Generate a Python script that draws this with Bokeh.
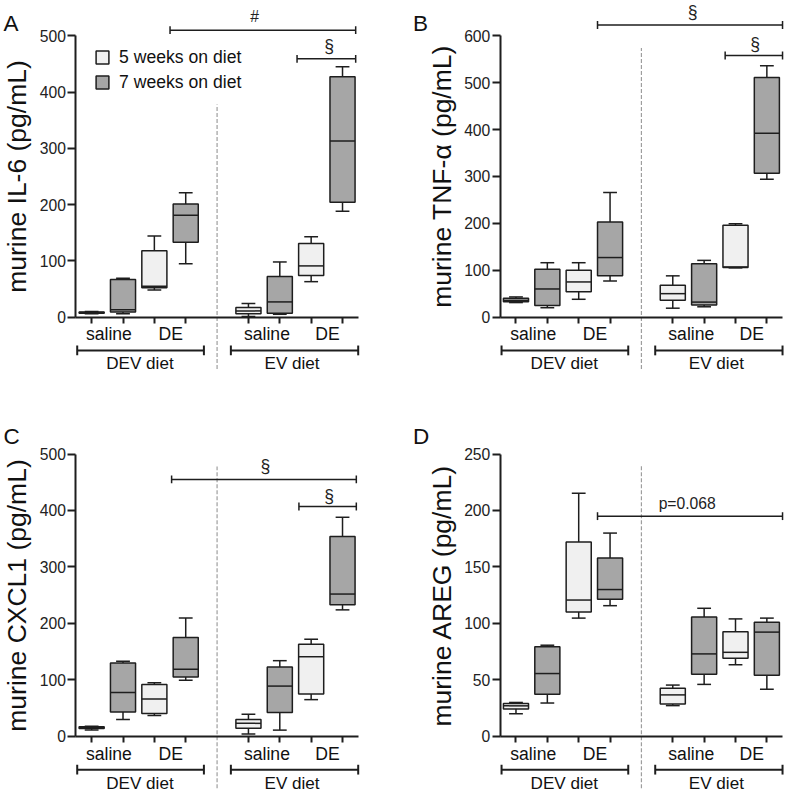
import numpy as np
from bokeh.plotting import figure
from bokeh.models import (ColumnDataSource, FixedTicker, LinearAxis, Range1d,
                          Label, Legend, LegendItem)
from bokeh.layouts import gridplot
from bokeh.core.properties import value
from bokeh.embed import file_html
from bokeh.resources import INLINE

# ---------------- data ----------------
pos_w5 = [1, 3, 6, 8]
pos_w7 = [2, 4, 7, 9]
sub_labels = ["saline", "DE", "saline", "DE"]
sub_label_x = [1.55, 3.52, 6.59, 8.52]
group_labels = ["DEV diet", "EV diet"]
group_label_x = [2.54, 7.39]
group_x0 = [0.54, 5.44]
group_x1 = [4.58, 9.5]
legend_labels = ["5 weeks on diet", "7 weeks on diet"]

# five-number summaries [min, q1, median, q3, max] for DEV saline, DEV DE, EV saline, EV DE
il6_w5 = [[6, 7, 8, 9, 10], [48, 52, 55, 118, 144], [1, 6, 11, 17, 24], [63, 74, 91, 131, 143]]
il6_w7 = [[6, 9, 13, 67, 69], [95, 133, 181, 201, 221], [5, 7, 27, 72, 98], [188, 204, 313, 427, 445]]
tnf_w5 = [[31, 33, 36, 40, 43], [38, 54, 75, 100, 116], [19, 36, 50, 68, 88], [105, 106, 107, 196, 199]]
tnf_w7 = [[20, 25, 60, 102, 116], [77, 88, 127, 203, 266], [22, 26, 32, 114, 121], [294, 307, 392, 511, 536]]
cxcl_w5 = [[11, 14, 15.5, 17, 18], [37, 40.5, 66, 92, 95], [4, 14.5, 23, 30, 39], [65, 75, 141, 163, 172]]
cxcl_w7 = [[30, 43, 77.5, 130, 133], [99.5, 105, 118.6, 175, 209.5], [11, 42, 89, 123, 134], [224, 233, 252, 354, 388]]
areg_w5 = [[20, 24.3, 27, 29, 30], [104.7, 110, 120.7, 172, 215.3], [27.2, 28.6, 36.7, 42.5, 45.4], [63.4, 69.2, 74.4, 92.6, 104]]
areg_w7 = [[29.5, 37.3, 55.6, 79.3, 80.7], [115.7, 121.5, 130, 158, 180], [46, 55, 73, 105.6, 113.4], [41.7, 54, 92.3, 101, 104.7]]

# significance brackets: x0, x1, y, label, label_x, label_y
il6_sig = [(3.5, 9.42, 510, "#", 6.2, 534), (7.55, 9.42, 459, "§", 8.57, 481)]
tnf_sig = [(3.6, 9.5, 623, "§", 6.63, 651), (7.67, 9.5, 558, "§", 8.63, 583)]
cxcl_sig = [(3.55, 9.44, 455, "§", 6.54, 479), (7.61, 9.44, 407, "§", 8.57, 425)]
areg_sig = [(3.6, 9.5, 195, "p=0.068", 6.46, 206)]

# ---------------- style ----------------
S = 0.98
FONT = "Liberation Sans"
LINE = "#1e1e1e"
LIGHT = "#f0f0f0"
DARK = "#a6a6a6"
DASH = "#9e9e9e"
FIG_W, FIG_H = 400, 404   # reference pixels per panel


def fs(px):
    return value(f"{px * S:.1f}px")


def make_panel(letter, ylabel, ymax, step, w5, w7, sig, fl, y0, ytop,
               sep_top, letter_xy, legend=False):
    W = round(FIG_W * S)
    H = round(FIG_H * S)
    ppu = (y0 - ytop) / ymax          # reference px per data unit
    xstart = 0.5 - fl / 32.0
    xend = 0.5 + (FIG_W - fl) / 32.0
    ystart = -(FIG_H - y0) / ppu
    yend = y0 / ppu

    p = figure(frame_width=W, frame_height=H, min_border=0,
               x_range=Range1d(xstart, xend), y_range=Range1d(ystart, yend),
               output_backend="svg", toolbar_location=None, tools="",
               x_axis_location=None, y_axis_location=None)
    p.grid.visible = False
    p.outline_line_color = None
    p.background_fill_color = "white"
    p.border_fill_color = "white"

    ya = LinearAxis(fixed_location=0.5, ticker=FixedTicker(ticks=list(range(0, ymax + 1, step))))
    ya.bounds = (0, ymax)
    ya.minor_tick_line_color = None
    ya.major_tick_out = round(8 * S)
    ya.major_tick_in = 0
    ya.major_label_standoff = 2
    ya.axis_line_width = 2
    ya.major_tick_line_width = 2
    ya.axis_line_color = LINE
    ya.major_tick_line_color = LINE
    ya.major_label_text_font = FONT
    ya.major_label_text_font_size = f"{16 * S:.1f}px"
    ya.major_label_text_color = "#222222"
    ya.axis_label = ylabel
    ya.axis_label_text_font = FONT
    ya.axis_label_text_font_style = "normal"
    ya.axis_label_text_font_size = f"{27 * S:.1f}px"
    ya.axis_label_text_color = "#111111"
    ya.axis_label_standoff = 4
    p.add_layout(ya, "left")

    xa = LinearAxis(fixed_location=0, ticker=FixedTicker(ticks=pos_w5 + pos_w7))
    xa.bounds = (0.5, 9.5)
    xa.major_label_text_font_size = "0px"
    xa.major_label_text_alpha = 0
    xa.minor_tick_line_color = None
    xa.major_tick_out = round(6 * S)
    xa.major_tick_in = 0
    xa.axis_line_width = 2
    xa.major_tick_line_width = 2
    xa.axis_line_color = LINE
    xa.major_tick_line_color = LINE
    p.add_layout(xa, "below")

    # separator
    p.segment(x0=[5], y0=[-53 / ppu], x1=[5], y1=[sep_top], line_color=DASH,
              line_width=1.2, line_dash="4 2")

    renderers = []
    for stats, pos, color in ((w5, pos_w5, LIGHT), (w7, pos_w7, DARK)):
        mins, q1, med, q3, maxs = (list(c) for c in zip(*stats))
        src = ColumnDataSource(dict(
            x=pos, left=[x - 0.4 for x in pos], right=[x + 0.4 for x in pos],
            cl=[x - 0.22 for x in pos], cr=[x + 0.22 for x in pos],
            mn=mins, q1=q1, med=med, q3=q3, mx=maxs))
        p.segment(x0="x", y0="mn", x1="x", y1="mx", source=src, line_color=LINE, line_width=1.5)
        p.segment(x0="cl", y0="mn", x1="cr", y1="mn", source=src, line_color=LINE, line_width=1.5)
        p.segment(x0="cl", y0="mx", x1="cr", y1="mx", source=src, line_color=LINE, line_width=1.5)
        r = p.quad(left="left", right="right", bottom="q1", top="q3", source=src,
                   fill_color=color, line_color=LINE, line_width=1.5)
        p.segment(x0="left", y0="med", x1="right", y1="med", source=src, line_color=LINE, line_width=1.5)
        renderers.append(r)

    # significance brackets
    for (x0, x1, yb, lab, lx, ly) in sig:
        p.segment(x0=[x0], y0=[yb], x1=[x1], y1=[yb], line_color=LINE, line_width=1.5)
        p.scatter(x=[x0, x1], y=[yb, yb], marker="dash", angle=np.pi / 2, size=8 * S,
                  line_color=LINE, line_width=1.5)
        p.text(x=[lx], y=[ly], text=[lab], text_font=value(FONT),
               text_font_size=fs(16 if lab != "§" else 18), text_align="center",
               text_baseline="middle", text_color="#222222")

    # category labels below the axis
    p.text(x=sub_label_x, y=[-17.7 / ppu] * 4, text=sub_labels, text_font=value(FONT),
           text_font_size=fs(18), text_align="center", text_baseline="middle",
           text_color="#111111")
    gy = -34 / ppu
    p.segment(x0=group_x0, y0=[gy, gy], x1=group_x1, y1=[gy, gy], line_color=LINE, line_width=2)
    p.scatter(x=group_x0 + group_x1, y=[gy] * 4, marker="dash", angle=np.pi / 2,
              size=10 * S, line_color=LINE, line_width=2)
    p.text(x=group_label_x, y=[-47.7 / ppu] * 2, text=group_labels, text_font=value(FONT),
           text_font_size=fs(17.5), text_align="center", text_baseline="middle",
           text_color="#111111")

    # panel letter
    lx, lb = letter_xy
    p.add_layout(Label(x=lx * S, y=(FIG_H - lb) * S, x_units="screen", y_units="screen",
                       text=letter, text_font=FONT, text_font_size=f"{23 * S:.1f}px",
                       text_baseline="alphabetic", text_color="#111111"))

    if legend:
        item_h = 20
        sp = 25 * S - item_h
        leg_h = 2 * item_h + sp
        leg = Legend(items=[LegendItem(label=legend_labels[0], renderers=[renderers[0]]),
                            LegendItem(label=legend_labels[1], renderers=[renderers[1]])],
                     location=(96 * S, (FIG_H - 49) * S - leg_h),
                     glyph_width=round(16 * S), glyph_height=round(16 * S),
                     label_height=item_h, label_standoff=round(9 * S), spacing=round(sp),
                     padding=0, margin=0, border_line_alpha=0, background_fill_alpha=0,
                     label_text_font=FONT, label_text_font_size=f"{18 * S:.1f}px",
                     label_text_color="#111111")
        p.add_layout(leg)
    return p


pA = make_panel("A", "murine IL-6 (pg/mL)", 500, 100, il6_w5, il6_w7, il6_sig,
                fl=77, y0=323, ytop=36, sep_top=378, letter_xy=(3, 23), legend=True)
pB = make_panel("B", "murine TNF-α (pg/mL)", 600, 100, tnf_w5, tnf_w7, tnf_sig,
                fl=110, y0=323, ytop=36, sep_top=574, letter_xy=(21, 23))
pC = make_panel("C", "murine CXCL1 (pg/mL)", 500, 100, cxcl_w5, cxcl_w7, cxcl_sig,
                fl=77, y0=346.7, ytop=58.7, sep_top=478, letter_xy=(3, 41))
pD = make_panel("D", "murine AREG (pg/mL)", 250, 50, areg_w5, areg_w7, areg_sig,
                fl=110, y0=346.7, ytop=58.7, sep_top=241, letter_xy=(21, 41))

grid = gridplot([[pA, pB], [pC, pD]], toolbar_location=None)

open("out.html", "w").write(file_html(grid, INLINE))
